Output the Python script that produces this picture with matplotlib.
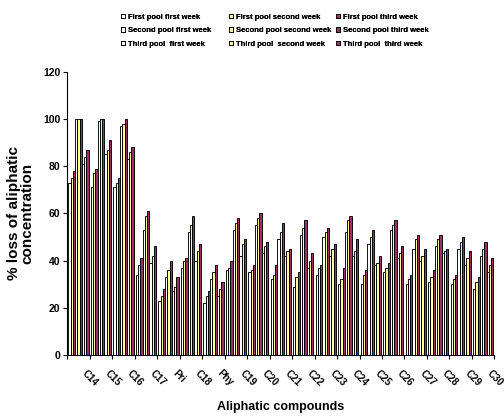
import numpy as np
import matplotlib
matplotlib.use("Agg")
import matplotlib.pyplot as plt
from matplotlib.ticker import FixedLocator, NullFormatter

compounds = ['C14', 'C15', 'C16', 'C17', 'Pri', 'C18', 'Phy', 'C19', 'C20', 'C21',
             'C22', 'C23', 'C24', 'C25', 'C26', 'C27', 'C28', 'C29', 'C30']

# % loss per compound, one list per pool/week combination
p1_w1 = [73, 71, 71, 34, 23, 37, 22, 36, 35, 32, 29, 34, 30, 30, 35, 30, 31, 30, 28]
p1_w2 = [75, 77, 73, 38, 25, 40, 25, 37, 36, 34, 33, 37, 32, 34, 37, 32, 33, 32, 31]
p1_w3 = [78, 79, 75, 41, 28, 41, 27, 40, 38, 38, 35, 38, 37, 36, 39, 34, 36, 34, 33]
p2_w1 = [100, 99, 97, 53, 33, 52, 32, 53, 55, 49, 51, 50, 52, 47, 53, 45, 46, 45, 42]
p2_w2 = [100, 100, 98, 59, 36, 55, 35, 56, 58, 52, 54, 52, 57, 50, 55, 49, 49, 48, 45]
p2_w3 = [100, 100, 100, 61, 40, 59, 38, 58, 60, 56, 57, 54, 59, 53, 57, 51, 51, 50, 48]
p3_w1 = [81, 85, 83, 39, 27, 40, 25, 42, 43, 42, 37, 42, 42, 38, 41, 40, 43, 38, 35]
p3_w2 = [84, 87, 86, 42, 29, 44, 28, 47, 46, 44, 40, 45, 44, 39, 43, 42, 44, 41, 38]
p3_w3 = [87, 91, 88, 46, 33, 47, 31, 49, 48, 45, 43, 47, 49, 42, 46, 45, 45, 44, 41]

series = [
    ('First pool first week', p1_w1, 'white'),
    ('First pool second week', p1_w2, '#FFFF99'),
    ('First pool third week', p1_w3, '#993366'),
    ('Second pool first week', p2_w1, 'white'),
    ('Second pool second week', p2_w2, '#FFFF99'),
    ('Second pool third week', p2_w3, '#993366'),
    ('Third pool  first week', p3_w1, 'white'),
    ('Third pool  second week', p3_w2, '#FFFF99'),
    ('Third pool  third week', p3_w3, '#993366'),
]

plt.rcParams['font.family'] = ['Liberation Sans', 'DejaVu Sans']

fig = plt.figure(figsize=(5.04, 4.17), dpi=100)
ax = fig.add_axes([0.1335, 0.1487, 0.8475, 0.6793])

x = np.arange(len(compounds))
width = 0.1
handles = []
for i, (name, vals, color) in enumerate(series):
    offset = (i - 4) * width
    b = ax.bar(x + offset, vals, width, color=color, edgecolor='black',
               linewidth=0.65, label=name)
    handles.append(b)

ax.set_xlim(-0.5, len(compounds) - 0.5)
ax.set_ylim(0, 120)
ax.set_yticks(range(0, 121, 20))
ax.tick_params(axis='y', labelsize=7.5, length=3, width=0.8, pad=2)
for lbl in ax.get_yticklabels():
    lbl.set_fontweight('bold')

# category boundaries carry the tick marks, names sit under the groups
ax.set_xticks(x)
ax.set_xticklabels([])
ax.tick_params(axis='x', which='major', length=0)
ax.xaxis.set_minor_locator(FixedLocator(np.arange(-0.5, len(compounds), 1)))
ax.xaxis.set_minor_formatter(NullFormatter())
ax.tick_params(axis='x', which='minor', length=3, width=0.8)
for xi, name in zip(x, compounds):
    ax.annotate(name, xy=(xi + 0.25, 0), xycoords=('data', 'axes fraction'),
                xytext=(0, -12), textcoords='offset points',
                rotation=-45, ha='left', va='center', rotation_mode='anchor',
                fontsize=7, fontweight='bold')

for side in ['top', 'right']:
    ax.spines[side].set_visible(False)
for side in ['left', 'bottom']:
    ax.spines[side].set_linewidth(0.8)

ax.set_ylabel('% loss of aliphatic\nconcentration', fontsize=11, fontweight='bold',
              labelpad=6, linespacing=0.95)
ax.set_xlabel('Aliphatic compounds', fontsize=9, fontweight='bold', labelpad=27)

# legend in three columns, filled row by row
col_x = [0.2405, 0.4545, 0.6665]
for c in range(3):
    leg = fig.legend(handles=handles[c::3], labels=[s[0] for s in series[c::3]],
                     loc='upper left', bbox_to_anchor=(col_x[c], 0.967),
                     ncol=1, frameon=False, prop={'weight': 'bold', 'size': 5.5},
                     handlelength=0.55, handleheight=0.55, handletextpad=0.35,
                     labelspacing=0.85, borderpad=0, borderaxespad=0)
    fig.add_artist(leg)

fig.savefig('out.png', dpi=100)
